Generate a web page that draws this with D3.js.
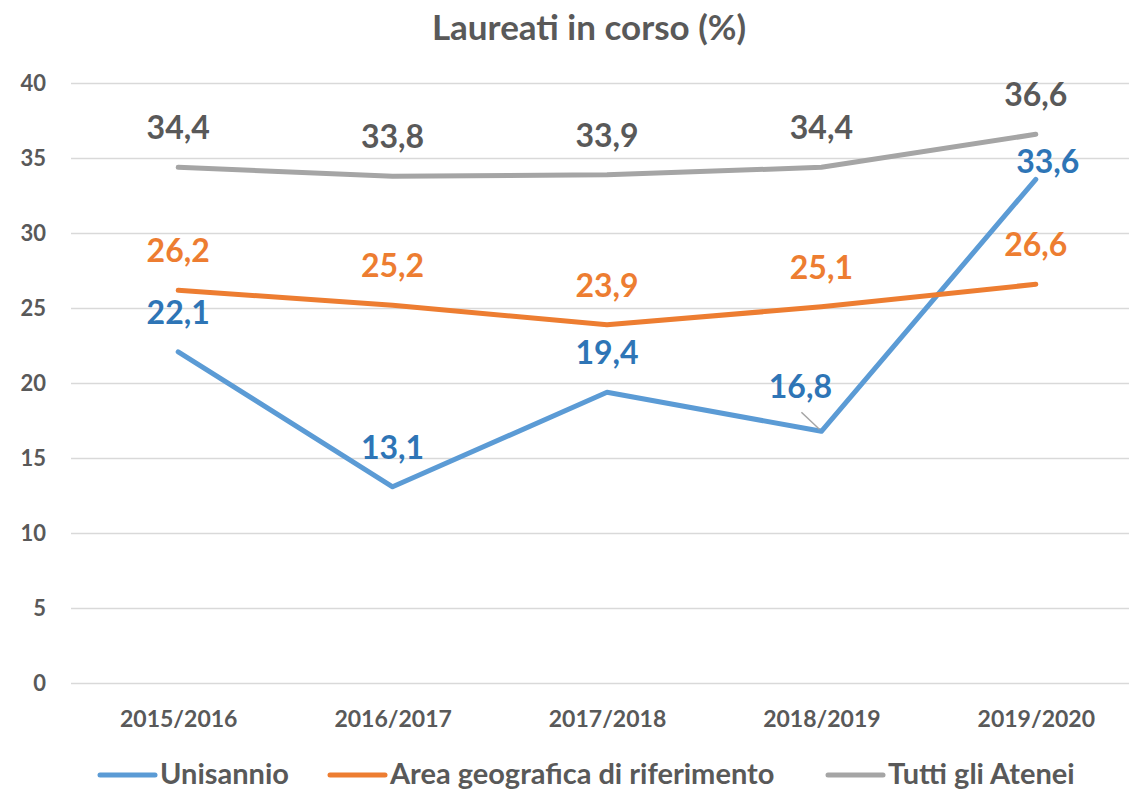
<!DOCTYPE html>
<html>
<head>
<meta charset="utf-8">
<script src="https://cdnjs.cloudflare.com/ajax/libs/d3/7.8.5/d3.min.js"></script>
<style>
  html, body { margin: 0; padding: 0; background: #fff; overflow: hidden; }
  svg text { font-family: Lato, "Open Sans", sans-serif; font-weight: 700; }
</style>
</head>
<body>
<div id="chart"></div>
<script>
var years = ["2015/2016", "2016/2017", "2017/2018", "2018/2019", "2019/2020"];
var unisannio = [22.1, 13.1, 19.4, 16.8, 33.6];
var areaGeo = [26.2, 25.2, 23.9, 25.1, 26.6];
var tuttiAtenei = [34.4, 33.8, 33.9, 34.4, 36.6];
var yTicks = [0, 5, 10, 15, 20, 25, 30, 35, 40];

var series = [
  { name: "Unisannio", values: unisannio, line: "#5B9BD5", text: "#2E75B6" },
  { name: "Area geografica di riferimento", values: areaGeo, line: "#ED7D31", text: "#ED7D31" },
  { name: "Tutti gli Atenei", values: tuttiAtenei, line: "#A5A5A5", text: "#595959" }
];

// hand-moved labels (dx, dy from the default spot)
var nudge = { "Unisannio-3": [-21, -5], "Unisannio-4": [12, 22] };

var width = 1129, height = 792;

var svg = d3.select("#chart").append("svg")
  .attr("width", width)
  .attr("height", height);

var x = d3.scalePoint().domain(years).range([71, 1143]).padding(0.5);
var y = d3.scaleLinear().domain([0, 40]).range([683.3, 83.3]);

svg.append("text")
  .attr("x", 589).attr("y", 40)
  .attr("text-anchor", "middle")
  .style("font-size", "35px")
  .style("fill", "#595959")
  .text("Laureati in corso (%)");

// grid
svg.append("g")
  .selectAll("line")
  .data(yTicks)
  .enter().append("line")
    .attr("x1", 71).attr("x2", 1143)
    .attr("y1", function(d) { return Math.round(y(d)) + 0.5; })
    .attr("y2", function(d) { return Math.round(y(d)) + 0.5; })
    .style("stroke", "#D9D9D9")
    .style("stroke-width", 1.5);

var yAxis = svg.append("g")
  .attr("transform", "translate(46,0)")
  .call(d3.axisLeft(y).tickValues(yTicks).tickSize(0).tickPadding(0));
yAxis.select(".domain").remove();
yAxis.selectAll("text")
  .style("font-size", "22px")
  .style("fill", "#595959")
  .style("font-family", "Lato, sans-serif");

var xAxis = svg.append("g")
  .attr("transform", "translate(0,727)")
  .call(d3.axisBottom(x).tickSize(0).tickPadding(0));
xAxis.select(".domain").remove();
xAxis.selectAll("text")
  .attr("y", 0).attr("dy", 0)
  .style("font-size", "23px")
  .style("fill", "#595959")
  .style("font-family", "Lato, sans-serif");

var line = d3.line()
  .x(function(d, i) { return x(years[i]); })
  .y(function(d) { return y(d); });

series.forEach(function(s) {
  svg.append("path")
    .datum(s.values)
    .attr("d", line)
    .style("fill", "none")
    .style("stroke", s.line)
    .style("stroke-width", 5)
    .style("stroke-linecap", "round")
    .style("stroke-linejoin", "round");
});

series.forEach(function(s) {
  var g = svg.append("g");
  s.values.forEach(function(v, i) {
    var n = nudge[s.name + "-" + i] || [0, 0];
    var tx = x(years[i]) + n[0], ty = y(v) - 28 + n[1];
    if (nudge[s.name + "-" + i] && n[0] < 0) {
      g.append("line")
        .attr("x1", tx + 1).attr("y1", ty + 14)
        .attr("x2", x(years[i]) - 2).attr("y2", y(v) - 2)
        .style("stroke", "#A5A5A5")
        .style("stroke-width", 1.5);
    }
    g.append("text")
      .attr("x", tx).attr("y", ty)
      .attr("text-anchor", "middle")
      .style("font-size", "32px")
      .style("fill", s.text)
      .text(String(v).replace(".", ","));
  });
});

// legend
var legendX = [100, 330, 828];
var leg = svg.append("g");
series.forEach(function(s, i) {
  leg.append("line")
    .attr("x1", legendX[i]).attr("x2", legendX[i] + 55)
    .attr("y1", 775).attr("y2", 775)
    .style("stroke", s.line)
    .style("stroke-width", 5)
    .style("stroke-linecap", "round");
  leg.append("text")
    .attr("x", legendX[i] + 60).attr("y", 784)
    .style("font-size", "29px")
    .style("fill", "#595959")
    .text(s.name);
});
</script>
</body>
</html>
